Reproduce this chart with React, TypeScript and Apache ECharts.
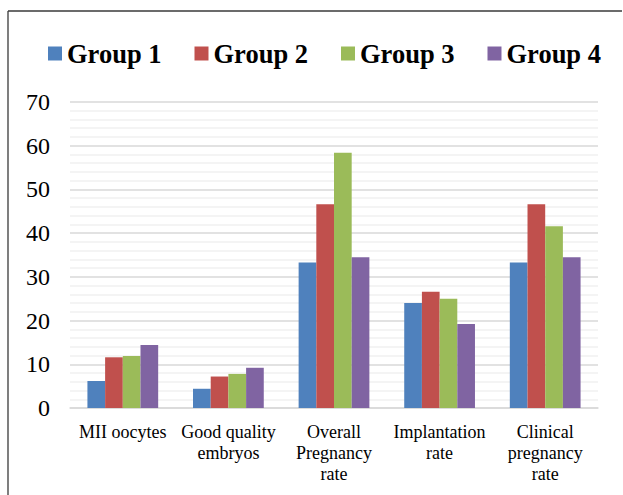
import React, { useEffect, useRef } from "react";
import * as echarts from "echarts";

const categories = [
  "MII oocytes",
  "Good quality\nembryos",
  "Overall\nPregnancy\nrate",
  "Implantation\nrate",
  "Clinical\npregnancy\nrate",
];
const seriesNames = ["Group 1", "Group 2", "Group 3", "Group 4"];
const group1 = [6.2, 4.4, 33.3, 24.0, 33.3];
const group2 = [11.6, 7.2, 46.6, 26.6, 46.6];
const group3 = [11.9, 7.8, 58.4, 25.0, 41.6];
const group4 = [14.4, 9.2, 34.5, 19.2, 34.5];
const colors = ["#4F81BD", "#C0504D", "#9BBB59", "#8064A2"];

const FONT = "Liberation Serif";

export default function App() {
  const ref = useRef<HTMLDivElement>(null);
  useEffect(() => {
    if (!ref.current) return;
    const chart = echarts.init(ref.current, undefined, { renderer: "svg" });
    const data = [group1, group2, group3, group4];
    chart.setOption({
      animation: false,
      backgroundColor: "#ffffff",
      graphic: [
        {
          type: "line",
          shape: { x1: 8, y1: 11, x2: 622, y2: 11 },
          style: { stroke: "#3a3a3a", lineWidth: 1.3 },
        },
        {
          type: "line",
          shape: { x1: 8, y1: 11, x2: 8, y2: 495 },
          style: { stroke: "#3a3a3a", lineWidth: 1.3 },
        },
      ],
      legend: {
        data: seriesNames,
        left: 48,
        top: 40,
        padding: 0,
        icon: "rect",
        itemWidth: 14,
        itemHeight: 14,
        itemGap: 33,
        textStyle: {
          fontFamily: FONT,
          fontSize: 26.5,
          fontWeight: "bold",
          color: "#000",
          lineHeight: 26,
        },
      },
      grid: { left: 70, right: 25, top: 102, bottom: 87, containLabel: false },
      xAxis: {
        type: "category",
        data: categories,
        axisTick: { show: false },
        axisLine: { lineStyle: { color: "#d9d9d9", width: 1.5 } },
        axisLabel: {
          interval: 0,
          margin: 13,
          fontFamily: FONT,
          fontSize: 18,
          lineHeight: 21,
          color: "#000",
        },
      },
      yAxis: {
        type: "value",
        min: 0,
        max: 70,
        interval: 10,
        axisLine: { show: false },
        axisTick: { show: false },
        axisLabel: {
          margin: 20,
          fontFamily: FONT,
          fontSize: 24,
          color: "#000",
        },
        splitLine: { lineStyle: { color: "#d9d9d9", width: 1.5 } },
        minorTick: { show: false, splitNumber: 5 },
        minorSplitLine: { show: true, lineStyle: { color: "#f0f0f0", width: 1.5 } },
      },
      series: seriesNames.map((name, i) => ({
        name,
        type: "bar",
        data: data[i],
        barGap: "0%",
        barCategoryGap: "33%",
        itemStyle: { color: colors[i] },
      })),
    });
    return () => chart.dispose();
  }, []);
  return (
    <div
      ref={ref}
      style={{ position: "fixed", left: 0, top: 0, width: 623, height: 495 }}
    />
  );
}
